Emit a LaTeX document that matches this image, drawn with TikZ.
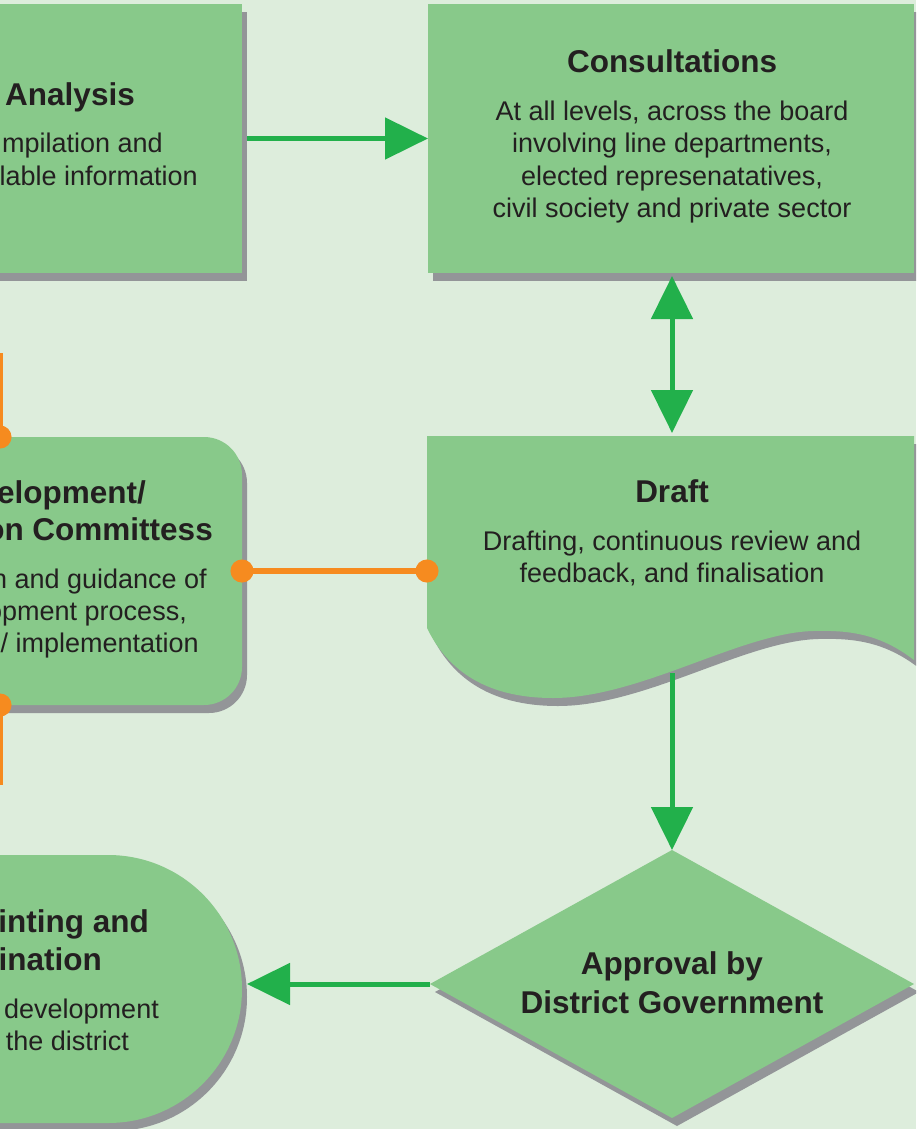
\documentclass[tikz,border=0pt]{standalone}
\usepackage{fontspec}
\setmainfont{Liberation Sans}
\usetikzlibrary{arrows.meta,shapes.geometric,shadows}
\definecolor{bgc}{HTML}{DDEDDC}
\definecolor{boxc}{HTML}{88C98A}
\definecolor{shc}{HTML}{939598}
\definecolor{grn}{HTML}{22B04B}
\definecolor{org}{HTML}{F68B1F}
\definecolor{txt}{HTML}{231F20}
\begin{document}
\begin{tikzpicture}[x=1pt,y=-1pt,
  sh/.style={general shadow={fill=shc, shadow xshift=5pt, shadow yshift=-8pt}},
  blk/.style={fill=boxc, draw=none, minimum width=484pt, minimum height=268pt, inner sep=0pt, outer sep=0pt, sh},
  ttl/.style={font=\fontsize{31.5}{37}\selectfont\bfseries, text=txt, inner sep=0pt},
  bdy/.style={font=\fontsize{27}{32}\selectfont, text=txt, inner sep=0pt},
  garrow/.style={draw=grn, line width=5pt, -{Triangle[length=43pt,width=41pt]}},
  gdouble/.style={draw=grn, line width=5pt, {Triangle[length=43pt,width=41pt]}-{Triangle[length=43pt,width=41pt]}},
  oconn/.style={draw=org, line width=5.5pt, {Circle[length=23pt]}-{Circle[length=23pt]}, shorten <=-11.5pt, shorten >=-11.5pt},
  oend/.style={draw=org, line width=5.5pt, {Circle[length=23pt]}-, shorten <=-11.5pt}
]
\useasboundingbox (0,0) rectangle (916,1129);
\clip (0,0) rectangle (916,1129);
\fill[bgc] (0,0) rectangle (916,1129);

% boxes
\node[blk, minimum height=269pt] (anal) at (0,138.5) {};
\node[blk, minimum width=486pt, minimum height=269pt] (cons) at (671,138.5) {};
\node[blk, rounded corners=38pt] (dev) at (0,571) {};
\node[blk, rounded corners=133.9pt] (stad) at (0,989) {};
\node[blk, diamond] (diam) at (672,984) {};

% draft (document shape)
\fill[shc, shift={(5,8)}] (427,436) -- (914,436) -- (914,660)
  .. controls (880,634) and (850,630) .. (813,631)
  .. controls (740,633) and (640,698) .. (553,698)
  .. controls (480,698) and (445,665) .. (427,628) -- cycle;
\fill[boxc] (427,436) -- (914,436) -- (914,660)
  .. controls (880,634) and (850,630) .. (813,631)
  .. controls (740,633) and (640,698) .. (553,698)
  .. controls (480,698) and (445,665) .. (427,628) -- cycle;
\coordinate (draftN) at (672,436);
\coordinate (draftW) at (427,569);
\coordinate (draftS) at (672,673);
\coordinate (stadE) at ([xshift=5pt]stad.east);
\coordinate (otop) at (0,353);
\coordinate (obot) at (0,785);

% texts
\node[ttl, anchor=base east] (analT) at (135,106) {Analysis};
\node[bdy, anchor=base east] (analB1) at (163,153) {mpilation and};
\node[bdy, anchor=base east] (analB2) at (198,185) {lable information};

\node[ttl, anchor=base] (consT) at (672,73) {Consultations};
\node[bdy, anchor=base] (consB1) at (672,121) {At all levels, across the board};
\node[bdy, anchor=base] (consB2) at (672,153) {involving line departments,};
\node[bdy, anchor=base] (consB3) at (672,185) {elected represenatatives,};
\node[bdy, anchor=base] (consB4) at (672,217) {civil society and private sector};

\node[ttl, anchor=base] (draftT) at (672,502) {Draft};
\node[bdy, anchor=base] (draftB1) at (672,550) {Drafting, continuous review and};
\node[bdy, anchor=base] (draftB2) at (672,582) {feedback, and finalisation};

\node[ttl, anchor=base east] (devT1) at (146,503) {elopment/};
\node[ttl, anchor=base east] (devT2) at (213,540) {on Committess};
\node[bdy, anchor=base east] (devB1) at (207,588) {n and guidance of};
\node[bdy, anchor=base east] (devB2) at (187,620) {opment process,};
\node[bdy, anchor=base east] (devB3) at (199,652) {/ implementation};

\node[ttl, anchor=base east] (stadT1) at (149,932) {inting and};
\node[ttl, anchor=base east] (stadT2) at (102,970) {ination};
\node[bdy, anchor=base east] (stadB1) at (159,1018) {development};
\node[bdy, anchor=base east] (stadB2) at (129,1050) {the district};

\node[ttl, anchor=base] (diamT1) at (672,974) {Approval by};
\node[ttl, anchor=base] (diamT2) at (672,1013) {District Government};

% connectors
\draw[garrow] ([xshift=5pt]anal.east) -- (cons.west);
\draw[gdouble, shorten <=3pt, shorten >=3pt] (draftN |- cons.south) -- (draftN);
\draw[garrow] (draftS) -- (diam.north);
\draw[garrow] (diam.west) -- (diam.west -| stadE);
\draw[oconn] (dev.east) -- (dev.east -| draftW);
\draw[oend] (dev.north) -- (otop);
\draw[oend] (dev.south) -- (obot);
\end{tikzpicture}
\end{document}
